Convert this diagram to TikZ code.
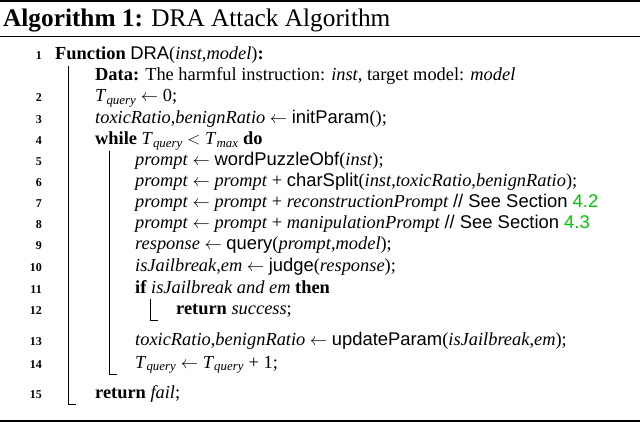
\documentclass[tikz,border=0pt]{standalone}
\usepackage{fontspec}
\setmainfont{Liberation Serif}
\setsansfont{Liberation Sans}
\usepackage{xcolor}
\definecolor{refgreen}{RGB}{0,200,0}
\newcommand{\vr}[1]{\textit{#1}}
\newcommand{\Tq}{\textit{T}\textsubscript{\textit{query}}}
\begin{document}
\begin{tikzpicture}[x=1pt,y=-1pt,
  ln/.style={anchor=base east,font=\bfseries\fontsize{12}{14}\selectfont,inner sep=0},
  tx/.style={anchor=base west,font=\fontsize{18.4}{20}\selectfont,inner sep=0},
  bar/.style={line width=0.6pt}]
\useasboundingbox (0,0) rectangle (640,422);
\draw[line width=1.2pt] (0,1) -- (640,1);
\draw[line width=0.5pt] (0,36) -- (640,36);
\draw[line width=1.2pt] (0,421) -- (640,421);
\node[anchor=base west,inner sep=0,font=\fontsize{25.3}{28}\selectfont] (title) at (3,27) {\textbf{Algorithm 1:} DRA Attack Algorithm};
\foreach \n/\yy in {1/60,2/102,3/124,4/145,5/166,6/187,7/208,8/229,9/250,10/271,11/293,12/314,13/345,14/368,15/398}
  \node[ln] (n\n) at (42,\yy) {\n};
\node[tx] (l1) at (55,60) {\textbf{Function} \textsf{DRA}(\vr{inst},\vr{model})\textbf{:}};
\node[tx] (ld) at (95,81) {\textbf{Data:} The harmful instruction: \vr{inst}, target model: \vr{model}};
\node[tx] (l2) at (95,102) {\Tq{} $\leftarrow$ 0;};
\node[tx] (l3) at (95,124) {\vr{toxicRatio},\vr{benignRatio} $\leftarrow$ \textsf{initParam}();};
\node[tx] (l4) at (95,145) {\textbf{while} \Tq{} $<$ \textit{T}\textsubscript{\textit{max}} \textbf{do}};
\node[tx] (l5) at (135,166) {\vr{prompt} $\leftarrow$ \textsf{wordPuzzleObf}(\vr{inst});};
\node[tx] (l6) at (135,187) {\vr{prompt} $\leftarrow$ \vr{prompt} + \textsf{charSplit}(\vr{inst},\vr{toxicRatio},\vr{benignRatio});};
\node[tx] (l7) at (135,208) {\vr{prompt} $\leftarrow$ \vr{prompt} + \vr{reconstructionPrompt} \textsf{// See Section \textcolor{refgreen}{4.2}}};
\node[tx] (l8) at (135,229) {\vr{prompt} $\leftarrow$ \vr{prompt} + \vr{manipulationPrompt} \textsf{// See Section \textcolor{refgreen}{4.3}}};
\node[tx] (l9) at (135,250) {\vr{response} $\leftarrow$ \textsf{query}(\vr{prompt},\vr{model});};
\node[tx] (l10) at (135,271) {\vr{isJailbreak},\vr{em} $\leftarrow$ \textsf{judge}(\vr{response});};
\node[tx] (l11) at (135,293) {\textbf{if} \vr{isJailbreak and em} \textbf{then}};
\node[tx] (l12) at (176,314) {\textbf{return} \vr{success};};
\node[tx] (l13) at (135,345) {\vr{toxicRatio},\vr{benignRatio} $\leftarrow$ \textsf{updateParam}(\vr{isJailbreak},\vr{em});};
\node[tx] (l14) at (135,368) {\Tq{} $\leftarrow$ \Tq{} + 1;};
\node[tx] (l15) at (95,398) {\textbf{return} \vr{fail};};
\draw[bar] (68,66) -- (68,404) -- (76,404);
\draw[bar] (109,151) -- (109,374) -- (117,374);
\draw[bar] (150,299) -- (150,320) -- (158,320);
\end{tikzpicture}
\end{document}
